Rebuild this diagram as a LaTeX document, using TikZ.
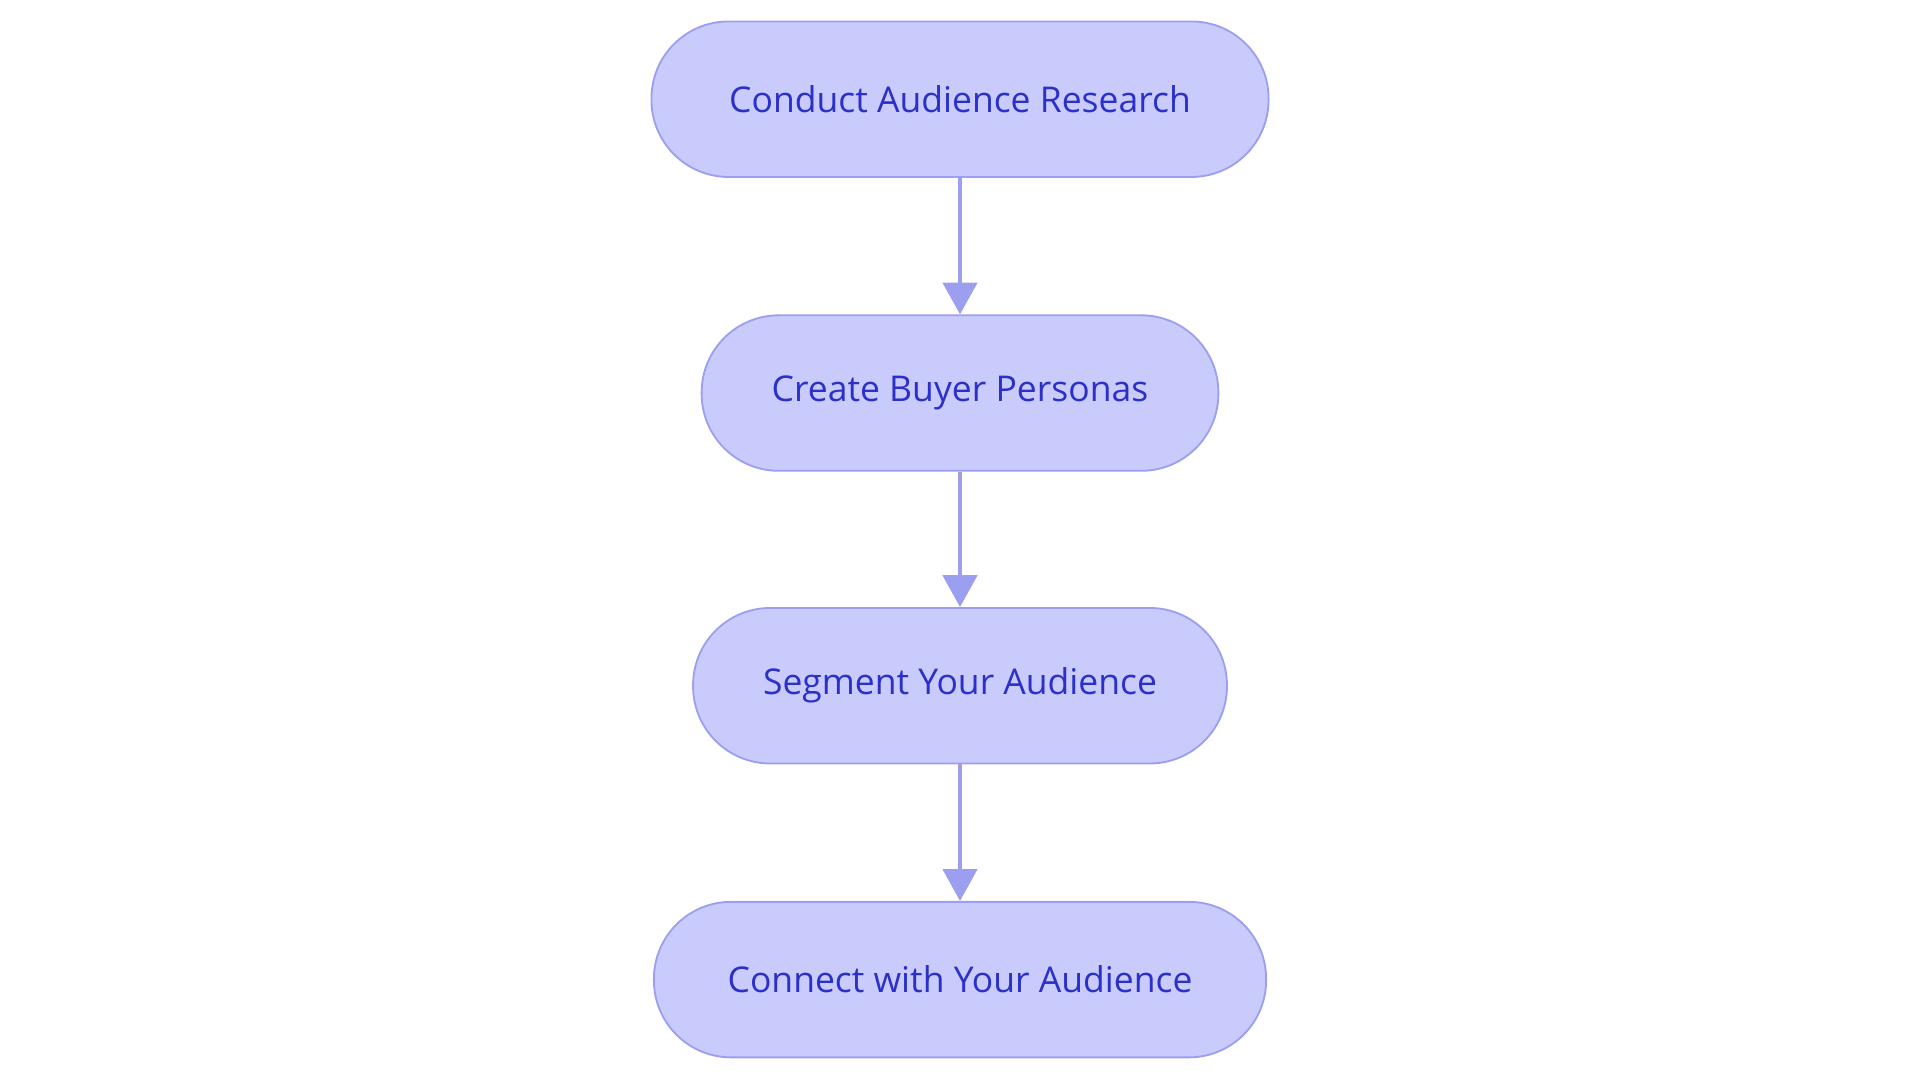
\documentclass[tikz,border=0pt]{standalone}
\usepackage{fontspec}
\setmainfont{Open Sans}
\usetikzlibrary{arrows.meta}
\definecolor{nfill}{HTML}{CACBFD}
\definecolor{nline}{HTML}{9C9FF0}
\definecolor{ntext}{HTML}{2B30C9}
\begin{document}
\begin{tikzpicture}[x=1pt,y=-1pt,
  box/.style={draw=nline,line width=1.5pt,fill=nfill,rounded corners=63pt,minimum height=127pt,text=ntext,font=\fontsize{29}{34}\selectfont,inner sep=0pt},
  arr/.style={draw=nline,line width=3pt,-{Triangle[length=26pt,width=28pt]}}]
\useasboundingbox (0,0) rectangle (1568,884);
\node[box,minimum width=504pt] (a) at (784,81) {Conduct Audience Research};
\node[box,minimum width=422pt] (b) at (784,321) {Create Buyer Personas};
\node[box,minimum width=436pt] (c) at (784,560) {Segment Your Audience};
\node[box,minimum width=500pt] (d) at (784,800) {Connect with Your Audience};
\draw[arr] (a) -- (b);
\draw[arr] (b) -- (c);
\draw[arr] (c) -- (d);
\end{tikzpicture}
\end{document}
